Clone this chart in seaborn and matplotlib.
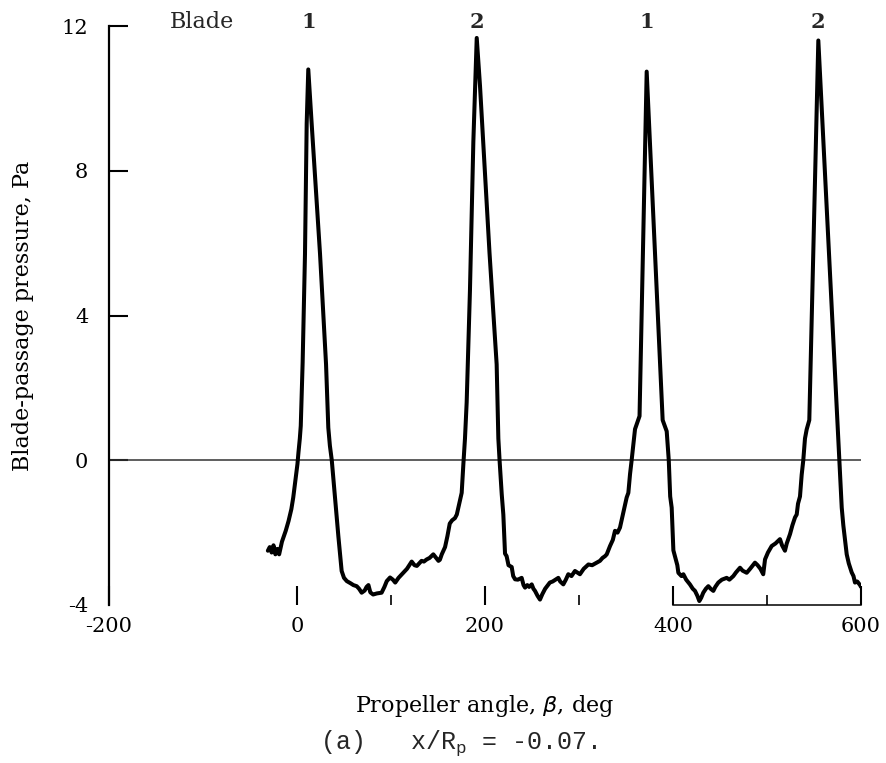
import numpy as np
import pandas as pd
import matplotlib
matplotlib.use("Agg")
import matplotlib.pyplot as plt
import seaborn as sns

# Propeller angle (deg) and blade-passage pressure (Pa)
angle = [-31, -29, -27, -25, -23, -21, -19, -16, -12, -9, -6, -4, -1.5, 0.5, 1.5, 3, 4,
         6, 8.5, 10.3, 12, 15.6, 24.5, 30.9, 33.3, 35, 37, 40, 44, 47.5, 50, 53, 57, 60,
         63.5, 66, 68.8, 72, 74, 76, 78, 81, 85, 90, 93, 95.5, 99, 102, 104.5, 108, 113,
         117, 122, 125, 127.5, 130, 132.5, 135, 138, 141, 145, 148, 150.5, 152, 154, 157.5,
         160, 162.5, 165, 168, 170, 173, 175.2, 177, 178.7, 180.5, 184, 187.6, 191.2, 194.7,
         204.8, 212.4, 214.2, 215.5, 217.8, 219.5, 221.3, 223, 225, 228.4, 230, 232, 235,
         239, 241, 242.6, 245, 247, 249.7, 251.5, 253.2, 256, 258.5, 261, 264, 269, 272,
         275, 278, 280, 283.3, 286, 288.6, 292, 295.7, 298, 301, 305, 310, 314, 318.8,
         322.3, 325, 327.7, 329.5, 333, 336, 338.3, 341, 343.6, 347, 350.7, 352.5, 354.3,
         356, 359.6, 364.4, 368.2, 372, 380.5, 389, 393.3, 395.5, 397, 398.6, 400.4, 401.5,
         404.6, 405.7, 409, 411, 414, 418, 421, 423.4, 426, 428, 430, 432.2, 435, 437.6,
         440, 442.9, 445, 448.2, 452, 457.1, 460, 464.2, 467, 471.3, 474, 478.4, 482,
         487.2, 490, 493, 496, 497.9, 501, 505, 509, 513.8, 516, 519.1, 521, 524.5, 527,
         529.8, 531.6, 533, 535.1, 536.9, 538.6, 540.4, 542.2, 545, 549.8, 554.6, 564.7,
         574.8, 577, 579.5, 581.2, 584.8, 587, 590.1, 592, 593.6, 596, 599, 600]
pressure = [-2.5, -2.4, -2.55, -2.35, -2.6, -2.45, -2.6, -2.25, -1.95, -1.68, -1.35, -1.03,
            -0.5, -0.1, 0.2, 0.6, 0.95, 2.7, 5.7, 9.3, 10.8, 9.3, 5.7, 2.65, 0.9, 0.4, 0.0,
            -0.9, -2.1, -3.06, -3.25, -3.34, -3.4, -3.45, -3.48, -3.55, -3.66, -3.6, -3.5,
            -3.45, -3.65, -3.71, -3.68, -3.66, -3.5, -3.34, -3.24, -3.3, -3.38, -3.25, -3.11,
            -3.0, -2.8, -2.9, -2.92, -2.85, -2.78, -2.8, -2.74, -2.7, -2.6, -2.7, -2.78,
            -2.75, -2.6, -2.4, -2.1, -1.75, -1.66, -1.6, -1.5, -1.15, -0.9, -0.1, 0.6, 1.6,
            4.7, 8.8, 11.67, 10.34, 5.73, 2.65, 0.6, 0.0, -0.94, -1.5, -2.58, -2.65, -2.9,
            -2.95, -3.2, -3.29, -3.3, -3.25, -3.45, -3.52, -3.45, -3.5, -3.43, -3.55, -3.61,
            -3.75, -3.85, -3.7, -3.55, -3.38, -3.35, -3.3, -3.25, -3.35, -3.43, -3.3, -3.15,
            -3.2, -3.06, -3.1, -3.15, -3.0, -2.88, -2.9, -2.83, -2.78, -2.7, -2.65, -2.6,
            -2.37, -2.2, -1.95, -2.0, -1.86, -1.46, -1.03, -0.9, -0.38, 0.0, 0.86, 1.22, 6.0,
            10.74, 5.9, 1.11, 0.8, 0.0, -1.0, -1.31, -2.49, -2.6, -2.9, -3.11, -3.2, -3.15,
            -3.3, -3.43, -3.55, -3.61, -3.75, -3.89, -3.8, -3.66, -3.55, -3.48, -3.55, -3.61,
            -3.5, -3.38, -3.3, -3.25, -3.3, -3.2, -3.1, -2.97, -3.05, -3.11, -3.0, -2.83,
            -2.9, -3.0, -3.15, -2.74, -2.55, -2.37, -2.3, -2.18, -2.35, -2.5, -2.3, -2.04,
            -1.8, -1.58, -1.5, -1.2, -1.0, -0.4, 0.0, 0.6, 0.85, 1.11, 6.3, 11.6, 6.35, 1.11,
            0.0, -1.31, -1.8, -2.6, -2.85, -3.1, -3.2, -3.38, -3.35, -3.45, -3.5]

blade_numbers = ["1", "2", "1", "2"]
x_major_ticks = [-200, 0, 200, 400, 600]
x_minor_ticks = [100, 300, 500]
y_ticks = [-4, 0, 4, 8, 12]

sns.set_theme(style="ticks")
plt.rcParams["font.family"] = ["DejaVu Serif"]
plt.rcParams["axes.unicode_minus"] = False

W, H = 886, 763
fig = plt.figure(figsize=(W / 100, H / 100), dpi=100)
ax = fig.add_axes([109 / W, 1 - 605 / H, (861 - 109) / W, (605 - 26) / H])

df = pd.DataFrame({"angle": angle, "pressure": pressure})
sns.lineplot(data=df, x="angle", y="pressure", sort=False, estimator=None,
             color="black", lw=2.9, ax=ax, zorder=3)
ax.axhline(0, color="#333333", lw=1.1, zorder=2)

ax.set_xlim(-200, 600)
ax.set_ylim(-4, 12)
for s in ["top", "right"]:
    ax.spines[s].set_visible(False)
ax.spines["bottom"].set_bounds(400, 600)
ax.spines["left"].set_linewidth(1.6)
ax.spines["bottom"].set_linewidth(1.1)
ax.spines["left"].set_color("black")
ax.spines["bottom"].set_color("black")

ax.set_xticks(x_major_ticks)
ax.set_xticks(x_minor_ticks, minor=True)
ax.set_yticks(y_ticks)
ax.set_xticklabels([str(v) for v in x_major_ticks])
ax.set_yticklabels([str(v) for v in y_ticks])
ax.tick_params(axis="both", which="major", direction="in", length=14, width=1.5,
               color="black", labelcolor="black", labelsize=15)
ax.tick_params(axis="y", pad=15)
ax.tick_params(axis="x", pad=9)
ax.tick_params(axis="x", which="minor", direction="in", length=7, width=1.2, color="black")
ax.yaxis.get_major_ticks()[0].tick1line.set_visible(False)

ax.set_xlabel("Propeller angle, $\\beta$, deg", fontsize=16, labelpad=41, color="black")
ax.set_ylabel("Blade-passage pressure, Pa", fontsize=16, labelpad=20, color="black")

# Blade labels above each pressure peak
p = np.array(pressure)
peak_idx = [i for i in range(1, len(p) - 1) if p[i] > 10 and p[i] >= p[i - 1] and p[i] >= p[i + 1]]
for name, i in zip(blade_numbers, peak_idx):
    ax.text(angle[i], 12.1, name, ha="center", va="center", fontsize=15, fontweight="bold")
ax.text(-101, 12.1, "Blade", ha="center", va="center", fontsize=16)

fig.text(459 / W, 1 - 743 / H, "(a)   x/R$_\\mathregular{p}$ = -0.07.",
         family="Liberation Mono", fontsize=18, ha="center", va="center")

fig.savefig("out.png", dpi=100)
